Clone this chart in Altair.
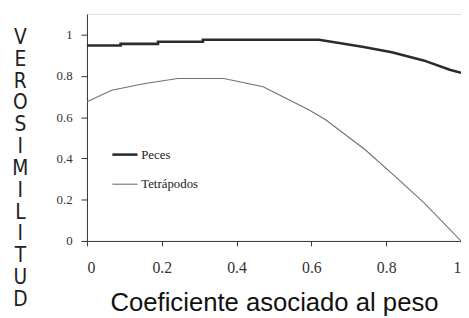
import altair as alt
import pandas as pd

peces_x = [0, 0.09, 0.09, 0.19, 0.19, 0.31, 0.31, 0.62, 0.67, 0.74, 0.815, 0.9, 0.97, 1.0]
peces_y = [0.947, 0.947, 0.955, 0.955, 0.965, 0.965, 0.975, 0.975, 0.96, 0.94, 0.915, 0.875, 0.83, 0.815]
tetra_x = [0, 0.066, 0.155, 0.243, 0.366, 0.471, 0.524, 0.594, 0.638, 0.744, 0.823, 0.9, 1.0]
tetra_y = [0.675, 0.73, 0.763, 0.787, 0.787, 0.747, 0.699, 0.635, 0.587, 0.442, 0.314, 0.187, 0.0]
series = ["Peces", "Tetrápodos"]
x_ticks = [0, 0.2, 0.4, 0.6, 0.8, 1]
y_ticks = [0, 0.2, 0.4, 0.6, 0.8, 1]
y_title = list("VEROSIMILITUD")
x_title = "Coeficiente asociado al peso"

rows = []
for i, (x, y) in enumerate(zip(peces_x, peces_y)):
    rows.append({"s": series[0], "x": x, "y": y, "o": i})
for i, (x, y) in enumerate(zip(tetra_x, tetra_y)):
    rows.append({"s": series[1], "x": x, "y": y, "o": i})
df = pd.DataFrame(rows)

SERIF = "Liberation Serif, Times New Roman, serif"

leg = alt.Legend(title=None, orient="none", legendX=24, legendY=128,
                 symbolType="stroke", symbolSize=650,
                 labelFont=SERIF, labelFontSize=13,
                 labelColor="#222", rowPadding=9, labelOffset=2)

chart = alt.Chart(df).mark_line().encode(
    x=alt.X("x:Q", scale=alt.Scale(domain=[0, 1], nice=False),
            axis=alt.Axis(values=x_ticks, format="~g", title=x_title, grid=False,
                          tickSize=5, labelPadding=14,
                          labelFont=SERIF, labelFontSize=16,
                          labelFontWeight="normal",
                          labelColor="#333", domainColor="#333", tickColor="#333",
                          titleFont="Liberation Sans", titleFontSize=26,
                          titleFontWeight="normal", titleColor="#111",
                          titleY=70, titleBaseline="alphabetic")),
    y=alt.Y("y:Q", scale=alt.Scale(domain=[0, 1.1], nice=False),
            axis=alt.Axis(values=y_ticks, format="~g", title=y_title, grid=False,
                          tickSize=6, labelPadding=9,
                          labelFont=SERIF, labelFontSize=13,
                          labelFontWeight="normal",
                          labelColor="#333", domainColor="#333", tickColor="#333",
                          titleFont="Liberation Sans Narrow, DejaVu Sans Condensed, Liberation Sans",
                          titleFontSize=21,
                          titleFontWeight="normal", titleColor="#222",
                          titleAngle=0, titleAlign="center", titleBaseline="alphabetic",
                          titleLineHeight=22.1, titleX=-68, titleY=30)),
    order="o:Q",
    color=alt.Color("s:N", scale=alt.Scale(domain=series, range=["#2b2b2b", "#707070"]),
                    legend=leg),
    strokeWidth=alt.StrokeWidth("s:N", scale=alt.Scale(domain=series, range=[2.6, 1.1]),
                                legend=leg),
).properties(
    width=379, height=230,
    autosize=alt.AutoSizeParams(type="none"),
    padding={"left": 80, "top": 4, "right": 0, "bottom": 74},
).configure_view(stroke="#333", strokeWidth=1.5).configure(background="white")

chart.save("out.html", embed_options={"renderer": "svg", "actions": False})
